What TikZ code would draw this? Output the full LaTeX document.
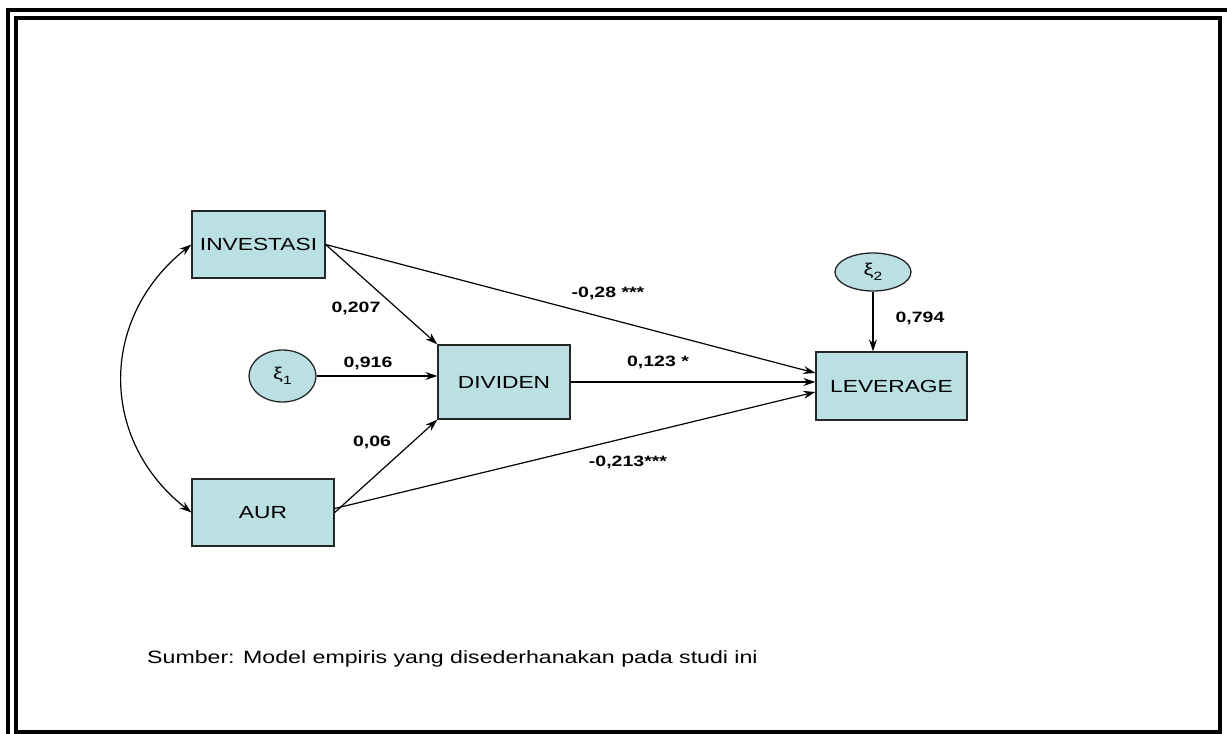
\documentclass[tikz,border=0pt]{standalone}
\usepackage{fontspec}
\setmainfont{Liberation Sans}[FakeStretch=1.3]
\usetikzlibrary{arrows.meta,shapes.geometric}
\definecolor{boxfill}{RGB}{187,224,227}
\begin{document}
\begin{tikzpicture}[x=1pt,y=-1pt,
  var/.style={draw=black!85, line width=1.3pt, fill=boxfill, inner sep=0pt,
    font=\fontsize{17.5}{20}\selectfont},
  err/.style={ellipse, draw=black!85, line width=1.3pt, fill=boxfill, inner sep=0pt,
    font=\fontsize{17}{20}\selectfont},
  link/.style={line width=1.2pt, -{Stealth[length=12pt,width=8pt]}},
  coef/.style={font=\bfseries\fontsize{15}{17}\selectfont, inner sep=0pt},
  frameline/.style={line width=4pt}]
\useasboundingbox (0,0) rectangle (1227,734);
% double page frame
\draw[frameline] (8,10) rectangle (1229,742);
\draw[frameline] (15.5,17.5) rectangle (1220,732);

% observed variables
\node[var, minimum width=133pt, minimum height=67pt] (inv) at (258.5,244.5) {INVESTASI};
\node[var, minimum width=142pt, minimum height=67pt] (aur) at (263,512.5) {AUR};
\node[var, minimum width=132pt, minimum height=74pt] (div) at (504,382) {DIVIDEN};
\node[var, minimum width=151pt, minimum height=68pt] (lev) at (891.5,386) {LEVERAGE};

% error terms
\node[err, minimum width=67pt, minimum height=52pt] (xi1) at (282.5,376)
  {ξ\raisebox{-0.55ex}{\fontsize{12}{13}\selectfont 1}};
\node[err, minimum width=76pt, minimum height=38pt] (xi2) at (873,272)
  {ξ\raisebox{-0.55ex}{\fontsize{12}{13}\selectfont 2}};

% paths
\draw[link] (inv.east) -- (div.north west);
\draw[link] (xi1.east) -- (xi1.east -| div.west);
\draw[link] (aur.east) -- (div.south west);
\draw[link] (inv.east) -- ([yshift=13pt]lev.west);
\draw[link] (div.east) -- (lev.west |- div.east);
\draw[link] ([yshift=4pt]aur.east) -- ([yshift=-6pt]lev.west);
\draw[link] (xi2.south) -- (xi2.south |- lev.north);
% correlation between the exogenous variables
\draw[line width=1.2pt, {Stealth[length=12pt,width=8pt]}-{Stealth[length=12pt,width=8pt]}]
  (inv.west) .. controls (99,318) and (99,440) .. (aur.west);

% coefficients
\node[coef] (c1) at (356,308) {0,207};
\node[coef] (c2) at (368,363) {0,916};
\node[coef] (c3) at (372,442) {0,06};
\node[coef] (c4) at (608,293) {-0,28 ***};
\node[coef] (c5) at (658,362) {0,123 *};
\node[coef] (c6) at (628,462) {-0,213***};
\node[coef] (c7) at (920,318) {0,794};

% source note
\node[anchor=west, inner sep=0pt, font=\fontsize{17.8}{20}\selectfont] (src) at (147,659)
  {Sumber: Model empiris yang disederhanakan pada studi ini};
\end{tikzpicture}
\end{document}
